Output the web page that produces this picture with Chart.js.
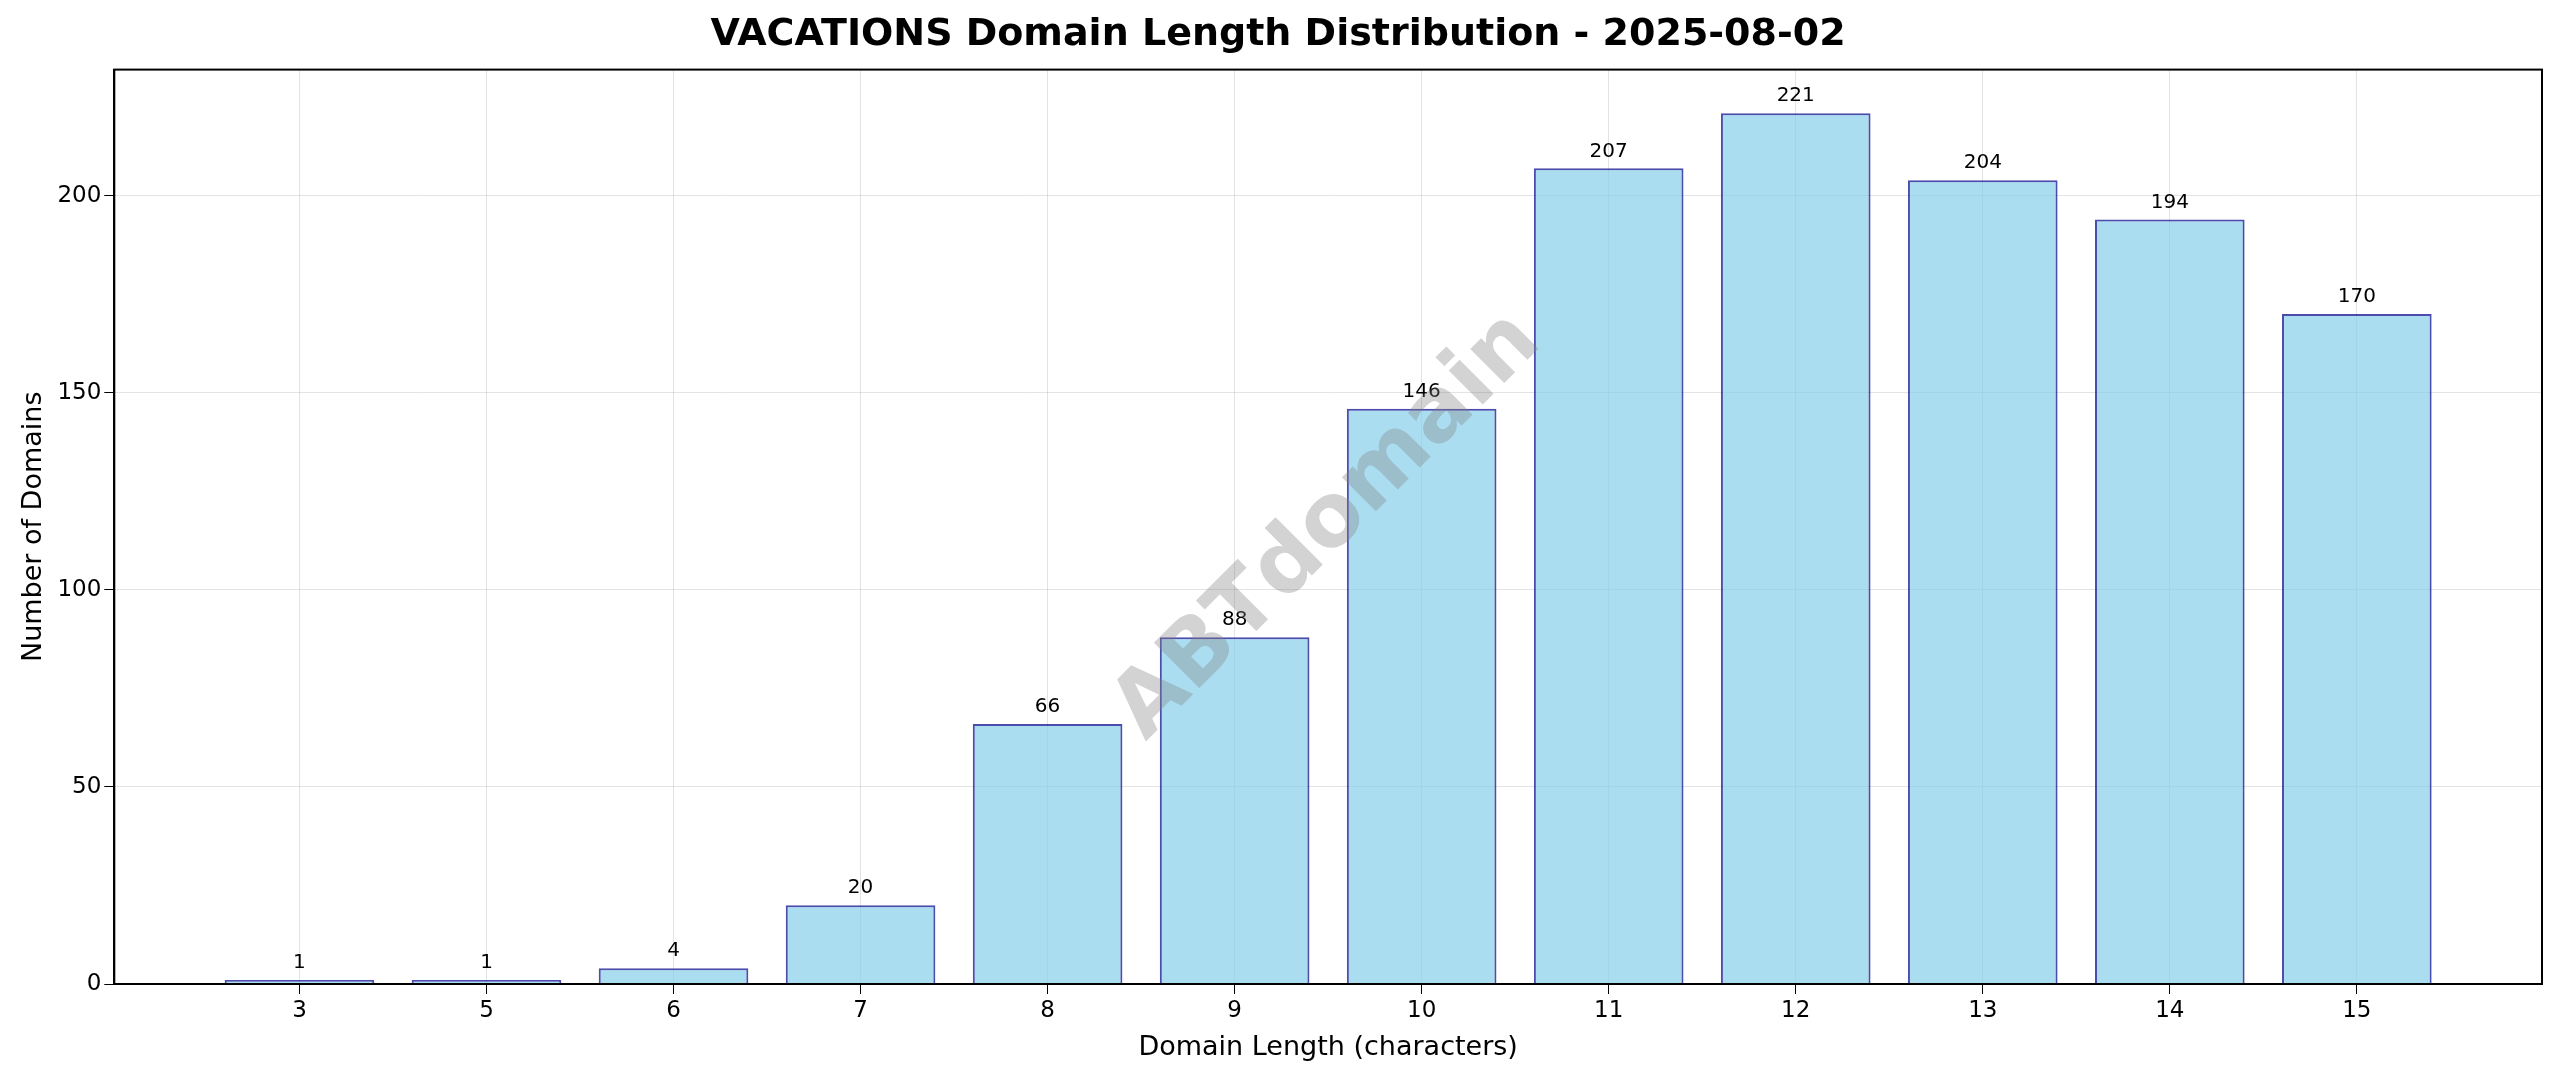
<!DOCTYPE html>
<html>
<head>
<meta charset="utf-8">
<script src="https://cdn.jsdelivr.net/npm/chart.js@4"></script>
<style>
  body { margin: 0; background: #fff; }
  canvas { display: block; }
</style>
</head>
<body>
<canvas id="chart" width="2560" height="1088"></canvas>
<script>
// Data
const lengths = ['3', '5', '6', '7', '8', '9', '10', '11', '12', '13', '14', '15'];
const counts = [1, 1, 4, 20, 66, 88, 146, 207, 221, 204, 194, 170];

const FONT = 'DejaVu Sans';

// frame, bar labels and watermark
const extras = {
  id: 'extras',
  afterDatasetsDraw(chart) {
    const { ctx, chartArea: a, scales } = chart;
    ctx.save();
    ctx.fillStyle = '#000';
    ctx.font = '20px ' + FONT;
    ctx.textAlign = 'center';
    ctx.textBaseline = 'bottom';
    counts.forEach((v, i) => {
      ctx.fillText(String(v), scales.x.getPixelForValue(i), scales.y.getPixelForValue(v) - 7);
    });
    // watermark
    ctx.translate(a.left + (a.right - a.left) * 0.5, a.top + (a.bottom - a.top) * 0.5);
    ctx.rotate(-Math.PI / 4);
    ctx.font = 'bold 88px ' + FONT;
    ctx.fillStyle = 'rgba(128,128,128,0.35)';
    ctx.textBaseline = 'middle';
    ctx.fillText('ABTdomain', 0, 0);
    ctx.restore();
    ctx.save();
    ctx.strokeStyle = '#000';
    ctx.lineWidth = 2;
    ctx.strokeRect(a.left, a.top, a.right - a.left, a.bottom - a.top);
    ctx.restore();
  }
};

new Chart(document.getElementById('chart').getContext('2d'), {
  type: 'bar',
  data: {
    datasets: [{
      data: counts.map((v, i) => ({ x: i, y: v })),
      backgroundColor: 'rgba(135,206,235,0.7)',
      borderColor: 'rgba(0,0,139,0.7)',
      borderWidth: 2,
      barPercentage: 0.8,
      categoryPercentage: 1.0
    }]
  },
  options: {
    responsive: false,
    animation: false,
    devicePixelRatio: 1,
    layout: { padding: { left: 14, right: 18, top: 6, bottom: 20 } },
    plugins: {
      legend: { display: false },
      tooltip: { enabled: false },
      title: {
        display: true,
        text: 'VACATIONS Domain Length Distribution - 2025-08-02',
        color: '#000',
        font: { family: FONT, size: 38, weight: 'bold' },
        padding: { top: 6, bottom: 12 }
      }
    },
    scales: {
      x: {
        type: 'linear',
        offset: false,
        min: -0.99,
        max: 11.99,
        afterBuildTicks: (s) => { s.ticks = lengths.map((_, i) => ({ value: i })); },
        ticks: {
          callback: (v) => lengths[v],
          color: '#000',
          font: { family: FONT, size: 23 },
          maxRotation: 0,
          autoSkip: false
        },
        grid: { offset: false, color: 'rgba(176,176,176,0.35)', tickColor: '#000', tickLength: 10 },
        border: { color: '#000', width: 2 },
        title: {
          display: true,
          text: 'Domain Length (characters)',
          color: '#000',
          font: { family: FONT, size: 27 }
        }
      },
      y: {
        min: 0,
        max: 232.05,
        afterBuildTicks: (s) => { s.ticks = [0, 50, 100, 150, 200].map(v => ({ value: v })); },
        ticks: { color: '#000', font: { family: FONT, size: 23 } },
        grid: { color: 'rgba(176,176,176,0.35)', tickColor: '#000', tickLength: 10 },
        border: { color: '#000', width: 2 },
        title: {
          display: true,
          text: 'Number of Domains',
          color: '#000',
          font: { family: FONT, size: 27 }
        }
      }
    }
  },
  plugins: [extras]
});
</script>
</body>
</html>
